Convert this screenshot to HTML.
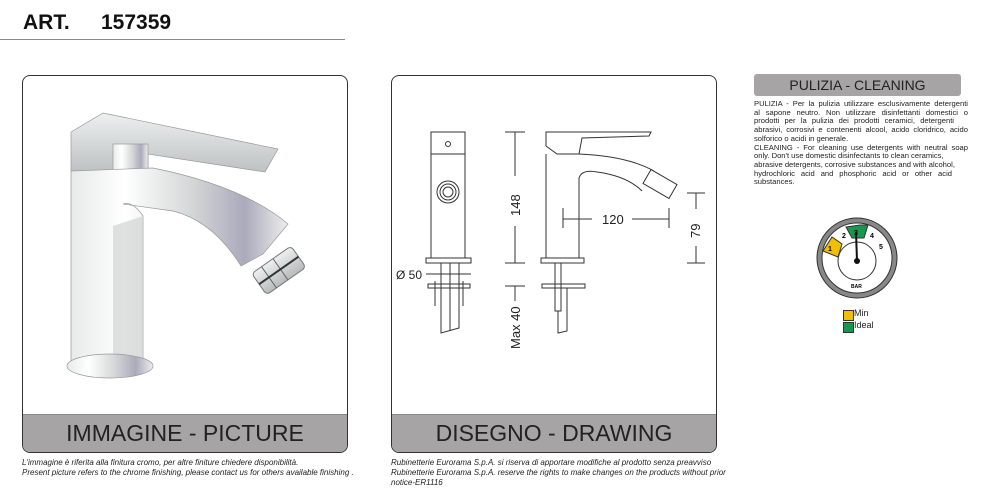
<!DOCTYPE html>
<html><head><meta charset="utf-8"><style>
body{margin:0;width:992px;height:498px;background:#fff;position:relative;overflow:hidden;font-family:"Liberation Sans",Arial,sans-serif}
.a{position:absolute}
.box{position:absolute;border:1px solid #333;border-radius:8px;background:#fff;overflow:hidden}
.band{position:absolute;left:0;right:0;bottom:0;height:37px;background:#a6a4a4;border-top:1px solid #888;text-align:center;font-size:23px;line-height:37px;color:#222}
.note{font-size:8px;font-style:italic;color:#222;line-height:10px}
.p div{text-align-last:justify;white-space:nowrap}
.p div.l{text-align-last:left}
</style></head><body>
<div class="a" style="left:23px;top:11px;font-size:21px;font-weight:bold;color:#111">ART.</div>
<div class="a" style="left:101px;top:11px;font-size:21px;font-weight:bold;color:#111">157359</div>
<div class="a" style="left:0;top:39px;width:345px;height:1px;background:#888"></div>

<div class="box" style="left:22px;top:75px;width:324px;height:376px">
<svg width="324" height="340" style="position:absolute;left:0;top:0">
<defs>
<linearGradient id="g" x1="0" x2="1"><stop offset="0" stop-color="#e8eaea"/><stop offset=".25" stop-color="#fff"/><stop offset=".55" stop-color="#d5d8d8"/><stop offset=".8" stop-color="#aab"/><stop offset="1" stop-color="#eee"/></linearGradient>
<linearGradient id="h" x1="0" y1="0" x2="0" y2="1"><stop offset="0" stop-color="#eef0f0"/><stop offset="1" stop-color="#b5babb"/></linearGradient>
</defs>
<path d="M48 56 L80 37 L255 73 L242 96 L125 78 L125 105 L48 95 Z" fill="url(#h)" stroke="#999" stroke-width=".7"/>
<rect x="90" y="68" width="35" height="38" fill="url(#g)" stroke="#999" stroke-width=".7"/>
<path d="M48 95 L48 285 L120 290 L120 140 Q110 125 100 128 L150 135 Q190 145 218 190 L240 178 L265 148 Q220 110 130 92 Z" fill="url(#g)" stroke="#999" stroke-width=".7"/>
<path d="M90 150 L120 140 L120 285 L90 290 Z" fill="#c9cdcd" opacity=".6"/>
<g transform="rotate(-35 255 195)">
<rect x="232" y="182" width="48" height="26" rx="4" fill="url(#h)" stroke="#777"/>
<line x1="244" y1="182" x2="244" y2="208" stroke="#666"/><line x1="258" y1="182" x2="258" y2="208" stroke="#666"/>
<line x1="232" y1="195" x2="280" y2="195" stroke="#333" stroke-width="2"/>
</g>
<ellipse cx="87" cy="290" rx="43" ry="12" fill="url(#g)" stroke="#999" stroke-width=".7"/>
</svg>
<div class="band">IMMAGINE - PICTURE</div></div>
<div class="a note" style="left:22px;top:458px;width:340px">L'immagine è riferita alla finitura cromo, per altre finiture chiedere disponibilità.<br>Present picture refers to the chrome finishing, please contact us for others available finishing .</div>

<div class="box" style="left:391px;top:75px;width:324px;height:376px">
<svg width="324" height="340" style="position:absolute;left:0;top:0;font-family:'Liberation Sans',sans-serif" fill="none" stroke="#333" stroke-width="1">
<rect x="39" y="56" width="34" height="22"/><circle cx="56" cy="68" r="2.5"/>
<rect x="39" y="78" width="34" height="104"/>
<circle cx="56" cy="116" r="11"/><circle cx="56" cy="116" r="8"/><circle cx="56" cy="116" r="5"/>
<rect x="34" y="182" width="45" height="5"/>
<path d="M49 187 V257 L67 252 V187 M58 187 V255"/>
<rect x="36" y="208" width="42" height="4"/>
<path d="M34 198 H79" />
<path d="M43 205 V230 M71 205 V230"/>
<text x="4" y="203" fill="#222" stroke="none" font-size="12">Ø 50</text>
<path d="M113 56 H133 M113 187 H133 M123 56 V100 M123 150 V187 M113 210 H133 M123 210 V225"/>
<text transform="translate(128,140) rotate(-90)" fill="#222" stroke="none" font-size="13">148</text>
<text transform="translate(128,273) rotate(-90)" fill="#222" stroke="none" font-size="13">Max 40</text>
<path d="M154 56 H259 L257 60 L190 62 L187 78 L165 78 L154 70 Z"/>
<path d="M154 78 V182 H187 V102 Q190 93 205 96 Q235 100 250 115 M187 78 Q235 80 262 95"/>
<rect x="253" y="100" width="30" height="16" transform="rotate(30 268 108)"/>
<rect x="149" y="182" width="43" height="5"/><rect x="150" y="208" width="43" height="4"/>
<path d="M163 187 V235 H169 V187 M166 235 V257 L175 255 V212"/>
<path d="M171 132 V152 M277 132 V152 M171 143 H200 M240 143 H277"/>
<text x="210" y="148" fill="#222" stroke="none" font-size="13">120</text>
<path d="M295 117 H313 M295 187 H313 M304 117 V133 M304 170 V187"/>
<text transform="translate(308,162) rotate(-90)" fill="#222" stroke="none" font-size="13">79</text>
</svg>
<div class="band">DISEGNO - DRAWING</div></div>
<div class="a note" style="left:391px;top:458px;width:360px">Rubinetterie Eurorama S.p.A. si riserva di apportare modifiche al prodotto senza preavviso<br>Rubinetterie Eurorama S.p.A. reserve the rights to make changes on the products without prior<br>notice-ER1116</div>

<div class="a" style="left:754px;top:74px;width:207px;height:22px;background:#a6a4a4;border-radius:3px;text-align:center;font-size:14px;line-height:23px;color:#222">PULIZIA - CLEANING</div>
<div class="a p" style="left:754px;top:100px;width:214px;font-size:7.6px;line-height:8.7px;color:#222">
<div>PULIZIA - Per la pulizia utilizzare esclusivamente detergenti</div>
<div>al sapone neutro. Non utilizzare disinfettanti domestici o</div>
<div class="l" style="width:200px;text-align-last:justify">prodotti per la pulizia dei prodotti ceramici, detergenti</div>
<div>abrasivi, corrosivi e contenenti alcool, acido cloridrico, acido</div>
<div class="l">solforico o acidi in generale.</div>
<div>CLEANING - For cleaning use detergents with neutral soap</div>
<div class="l">only. Don't use domestic disinfectants to clean ceramics,</div>
<div class="l">abrasive detergents, corrosive substances and with alcohol,</div>
<div style="width:198px">hydrochloric acid and phosphoric acid or other acid</div>
<div class="l">substances.</div>
</div>
<svg class="a" style="left:815px;top:216px" width="85" height="85" font-family="Liberation Sans" font-weight="bold" font-size="7">
<circle cx="42" cy="42" r="40" fill="#888" stroke="#333"/>
<circle cx="42" cy="42" r="35" fill="#fff" stroke="#333"/>
<path d="M31 11 L45 9 L53 9 L49 22 L37 22 Z" fill="#1a9650" stroke="#333"/>
<path d="M8 35 L17 21 L27 28 L23 41 Z" fill="#f0c000" stroke="#333"/>
<circle cx="42" cy="45" r="19" fill="#fff" stroke="#333"/>
<line x1="42" y1="45" x2="41" y2="16" stroke="#111" stroke-width="2"/>
<circle cx="42" cy="45" r="3" fill="#111"/>
<text x="13" y="35">1</text><text x="27" y="22">2</text><text x="39" y="19">3</text><text x="55" y="22">4</text><text x="64" y="33">5</text>
<text x="36" y="72" font-size="5">BAR</text>
</svg>
<div class="a" style="left:843px;top:310px;width:9px;height:9px;background:#f0c000;border:1px solid #333"></div>
<div class="a" style="left:854px;top:308px;font-size:9px;color:#222">Min</div>
<div class="a" style="left:843px;top:322px;width:9px;height:9px;background:#1a9650;border:1px solid #333"></div>
<div class="a" style="left:854px;top:320px;font-size:9px;color:#222">Ideal</div>
</body></html>
